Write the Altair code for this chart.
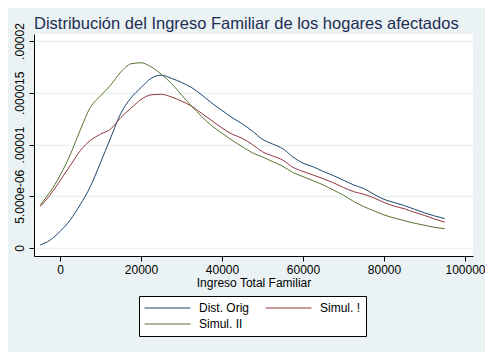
import altair as alt
import pandas as pd

# ---- data ----
income = [-4900, -2500, 0, 2500, 5000, 7500, 10000, 12500, 15000, 17500, 20000,
          22500, 25000, 27500, 30000, 32500, 35000, 37500, 40000, 42500, 45000,
          47500, 50000, 52500, 55000, 57500, 60000, 62500, 65000, 67500, 70000,
          72500, 75000, 77500, 80000, 82500, 85000, 87500, 90000, 92500, 95000]

# densities in units of 1e-6
dist_orig = [0.3, 0.75, 1.6, 2.7, 4.2, 5.95, 8.25, 10.65, 13.0, 14.5, 15.5,
             16.4, 16.7, 16.4, 16.0, 15.5, 14.8, 14.0, 13.3, 12.6, 12.0,
             11.3, 10.5, 10.05, 9.6, 8.8, 8.2, 7.85, 7.4, 7.0, 6.55,
             6.1, 5.75, 5.2, 4.7, 4.4, 4.1, 3.75, 3.4, 3.1, 2.85]
simul_1 = [4.0, 5.1, 6.5, 7.95, 9.4, 10.4, 11.0, 11.5, 12.6, 13.5, 14.35,
           14.8, 14.85, 14.6, 14.2, 13.7, 13.0, 12.3, 11.6, 11.0, 10.6,
           10.0, 9.3, 8.9, 8.5, 7.8, 7.4, 7.05, 6.7, 6.3, 5.85,
           5.45, 5.2, 4.85, 4.4, 4.05, 3.8, 3.45, 3.15, 2.8, 2.5]
simul_2 = [4.15, 5.4, 7.0, 9.0, 11.4, 13.6, 14.7, 15.75, 17.0, 17.8, 17.9,
           17.5, 16.8, 15.9, 14.8, 13.7, 12.7, 11.8, 11.1, 10.4, 9.8,
           9.2, 8.8, 8.35, 7.9, 7.3, 6.9, 6.5, 6.1, 5.6, 5.1,
           4.5, 4.0, 3.6, 3.2, 2.9, 2.65, 2.4, 2.2, 2.0, 1.86]

series_names = ["Dist. Orig", "Simul. !", "Simul. II"]
series_colors = ["#1A476F", "#90353B", "#55752F"]

x_ticks = [0, 20000, 40000, 60000, 80000, 100000]
y_ticks = [0, 0.000005, 0.00001, 0.000015, 0.00002]
y_tick_labels = ["0", "5.000e-06", ".00001", ".000015", ".00002"]

rows = []
for name, vals in zip(series_names, [dist_orig, simul_1, simul_2]):
    for xv, yv in zip(income, vals):
        rows.append({"x": xv, "y": yv * 1e-6, "serie": name})
df = pd.DataFrame(rows)

label_expr = ""
for v, lab in zip(y_ticks, y_tick_labels):
    label_expr += f"abs(datum.value - {v}) < 1e-9 ? '{lab}' : "
label_expr += "''"

bg = "#EAF2F3"
font = "Liberation Sans"

chart = alt.Chart(df).mark_line(strokeWidth=1, interpolate="monotone").encode(
    x=alt.X("x:Q",
            scale=alt.Scale(domain=[-6420, 101975], nice=False, zero=False),
            axis=alt.Axis(values=x_ticks, format="d", title="Ingreso Total Familiar",
                          grid=False, domainColor="black", tickColor="black",
                          tickSize=5, labelFontSize=12, labelColor="black",
                          labelPadding=3, titleFontSize=12, titleFontWeight="normal",
                          titleColor="black", titlePadding=2, labelFont=font, titleFont=font)),
    y=alt.Y("y:Q",
            scale=alt.Scale(domain=[-0.00000077, 0.00002068], nice=False, zero=False),
            axis=alt.Axis(values=y_ticks, labelExpr=label_expr, title=None,
                          grid=True, gridColor=bg, gridWidth=1.5,
                          domainColor="black", tickColor="black", tickSize=5,
                          labelAngle=270, labelAlign="center", labelBaseline="bottom",
                          labelFontSize=12, labelColor="black", labelPadding=3,
                          labelFont=font)),
    color=alt.Color("serie:N",
                    scale=alt.Scale(domain=series_names, range=series_colors),
                    legend=alt.Legend(title=None, orient="none", legendX=105, legendY=262,
                                      direction="horizontal",
                                      columns=2, symbolType="stroke", symbolSize=2116,
                                      symbolStrokeWidth=1, clipHeight=14,
                                      labelFontSize=12, labelFont=font, labelColor="black",
                                      labelOffset=8, columnPadding=15, rowPadding=2,
                                      padding=5, strokeColor="black", fillColor="white")),
    order=alt.Order("x:Q"),
).properties(
    width=439,
    height=222,
    title=alt.TitleParams("Distribución del Ingreso Familiar de los hogares afectados",
                          anchor="start", frame="group", fontSize=16.5, font=font,
                          fontWeight="normal", color="#1E2D53", offset=-10),
    autosize=alt.AutoSizeParams(type="none"),
    padding={"left": 26, "top": 26, "right": 12, "bottom": 96},
    background=bg,
).configure_view(
    fill="white", stroke=None
)

chart.save("out.html", embed_options={"renderer": "svg", "actions": False})
